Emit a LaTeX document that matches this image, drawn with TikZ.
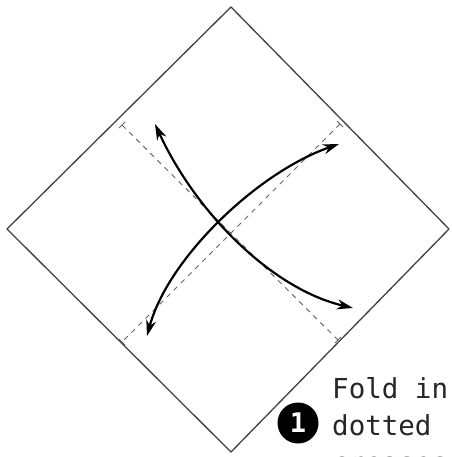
\documentclass[tikz,border=0pt]{standalone}
\usepackage{fontspec}
\newfontfamily\labelfont{DejaVu Sans Mono}
\usetikzlibrary{arrows.meta}

\begin{document}
\begin{tikzpicture}[x=1pt, y=-1pt,
  paper/.style={draw=black!75, line width=1.3pt, line join=round},
  crease/.style={draw=black!60, line width=1pt, dash pattern=on 5pt off 5pt},
  tick/.style={draw=black!60, line width=1pt},
  foldarrow/.style={draw=black, line width=2.2pt, {Stealth[length=16pt,width=10pt]}-{Stealth[length=16pt,width=10pt]}},
  caption/.style={anchor=base west, inner sep=0pt, text=black!85, font=\labelfont\fontsize{27.5}{27.5}\selectfont}]
\useasboundingbox (0,0) rectangle (451,457);
\clip (0,0) rectangle (451,457);
% square paper, turned to a diamond
\coordinate (top) at (231,7);
\coordinate (left) at (7,229);
\coordinate (right) at (449,229);
\coordinate (bottom) at (231,452);
\draw[paper] (top) -- (right) -- (bottom) -- (left) -- cycle;
% creases
\coordinate (c1a) at (122,125);
\coordinate (c1b) at (338,340);
\coordinate (c2a) at (340,124);
\coordinate (c2b) at (122,342);
\draw[crease] (c1a) -- (c1b);
\draw[crease] (c2a) -- (c2b);
\draw[tick] (c1a) +(-3,3) -- +(3,-3);
\draw[tick] (c1b) +(-3,3) -- +(3,-3);
\draw[tick] (c2a) +(-3,-3) -- +(3,3);
\draw[tick] (c2b) +(-3,-3) -- +(3,3);
% fold and unfold arrows
\coordinate (a1s) at (155,124);
\coordinate (a1e) at (353,308);
\coordinate (a2s) at (147,336);
\coordinate (a2e) at (339,144);
\draw[foldarrow] (a1s) .. controls (196,213) and (272,289) .. (a1e);
\draw[foldarrow] (a2s) .. controls (168,258) and (258,172) .. (a2e);
% step label
\node[circle, fill=black, minimum size=41pt, inner sep=0pt, text=white, font=\labelfont\bfseries\fontsize{27}{27}\selectfont] (num) at (298,423) {1};
\node[caption] (line1) at (332,398) {Fold in};
\node[caption] (line2) at (332,435) {dotted};
\node[caption] (line3) at (332,472) {creases};
\end{tikzpicture}
\end{document}
